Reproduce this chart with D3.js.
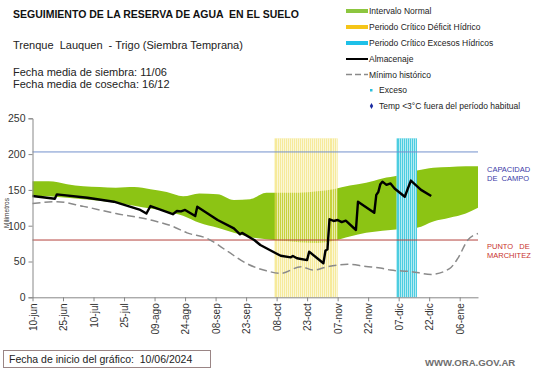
<!DOCTYPE html>
<html>
<head>
  <meta charset="UTF-8">
  <style>
    body { margin: 0; background: #fff; }
    text { font-family: "Liberation Sans", Arial, sans-serif; white-space: pre; }
  </style>
</head>
<body>
<div id="chart_div"></div>
<script src="https://d3js.org/d3.v7.min.js"></script>
<script>

// Datos (dias desde el 10/06/2024)
const tickLabels = ["10-jun","25-jun","10-jul","25-jul","09-ago","24-ago","08-sep","23-sep",
                    "08-oct","23-oct","07-nov","22-nov","07-dic","22-dic","06-ene"];
const tickDays = [0,15,30,45,60,75,90,105,120,135,150,165,180,195,210];

const normalDays = [0,8,17,25,33,41,50,58,66,74,82,91,99,107,115,123,131,140,148,156,164,172,180,189,197,205,213,219];
const normalHigh = [162,162,158,155,154,153,154,151,147,141,145,144,136,137,146,146,146,148,151,156,160,166,170,177,181,182,183,183];
const normalLow  = [142,141,139,137,135,132,128,124,120,114,104,97,90,84,81,79,77,76,79,85,90,93,95,97,106,111,117,125];

const storageDays   = [0,11,12,27,40,53,56,58,69,71,73,75,80,81,91,99,102,103,109,112,118,122,127,128,130,135,136,143,144,145,146,148,150,152,154,159,160,168,169,170,171,172,174,176,178,183,186,191,196];
const storageValues = [141.5,137.7,143.8,139,133.5,122,117,127.5,116,120.5,120,122,113.5,126.5,108,96.3,88,90,80,73,64,58,55.8,57.7,54.5,52,63.7,47.5,65,67,109,106.6,108,105,107,94,133.5,118,143,147,158,161.5,157,159,152,140.5,163,150,141.5];

const minDays   = [0,12,25,41,58,69,76,86,96,105,115,122,132,138,145,155,164,171,176,186,196,205,209,214,219];
const minValues = [131,133.5,127,117,108,99,90,82,64,47.5,37,33.5,42.7,38,42.7,46,43,41,38,36,32,40,54,80,89];

const deficitPeriod = [119, 149];   // Periodo critico deficit hidrico
const excessPeriod  = [179, 188];   // Periodo critico excesos hidricos
const bandTop = 222;
const fieldCapacity = 203;
const wiltingPoint = 80;
const yTicks = [0,50,100,150,200,250];

const width = 541, height = 368;
const margin = {left: 32.5, right: 478, top: 118.3, bottom: 297.3};

const svg = d3.select("#chart_div")
  .append("svg")
  .attr("width", width)
  .attr("height", height);

const start = new Date(2024, 5, 10);
const day = d => d3.timeDay.offset(start, d);

const x = d3.scaleTime()
  .domain([start, day(219)])
  .range([margin.left, margin.right]);
const y = d3.scaleLinear()
  .domain([0, 250])
  .range([margin.bottom, margin.top]);

// Intervalo normal
svg.append("path")
  .datum(normalDays.map((d, i) => ({d: d, hi: normalHigh[i], lo: normalLow[i]})))
  .attr("fill", "#8cc414")
  .attr("d", d3.area()
    .x(p => x(day(p.d)))
    .y0(p => y(p.lo))
    .y1(p => y(p.hi))
    .curve(d3.curveMonotoneX));

// Periodos criticos (barras diarias con lineas blancas entre dias)
function stripes(period, color, op, bg) {
  const g = svg.append("g");
  const x0 = x(day(period[0])), x1 = x(day(period[1] + 1));
  if (bg) {
    g.append("rect").attr("x", x0).attr("y", y(bandTop))
      .attr("width", x1 - x0).attr("height", y(0) - y(bandTop)).attr("fill", "#fff");
  }
  g.append("rect").attr("x", x0).attr("y", y(bandTop))
    .attr("width", x1 - x0).attr("height", y(0) - y(bandTop))
    .attr("fill", color).attr("opacity", op);
  g.selectAll("line")
    .data(d3.range(period[0] + 1, period[1] + 1))
    .enter().append("line")
      .attr("x1", d => Math.round(x(day(d))) + 0.5)
      .attr("x2", d => Math.round(x(day(d))) + 0.5)
      .attr("y1", y(bandTop))
      .attr("y2", y(0))
      .attr("stroke", "#fff")
      .attr("stroke-opacity", 0.75)
      .attr("stroke-width", 0.8);
}
stripes(deficitPeriod, "#f0dc58", 0.6, false);
stripes(excessPeriod, "#42cade", 0.95, true);

// Capacidad de campo y punto de marchitez
svg.append("line")
  .attr("x1", margin.left).attr("x2", margin.right)
  .attr("y1", y(fieldCapacity)).attr("y2", y(fieldCapacity))
  .attr("stroke", "#7290cc").attr("stroke-width", 1);
svg.append("line")
  .attr("x1", margin.left).attr("x2", margin.right)
  .attr("y1", y(wiltingPoint)).attr("y2", y(wiltingPoint))
  .attr("stroke", "#b4423c").attr("stroke-width", 1);

// Minimo historico
svg.append("path")
  .datum(minDays.map((d, i) => [d, minValues[i]]))
  .attr("fill", "none")
  .attr("stroke", "#8a8a8a")
  .attr("stroke-width", 1.5)
  .attr("stroke-dasharray", "8,4")
  .attr("d", d3.line()
    .x(p => x(day(p[0])))
    .y(p => y(p[1]))
    .curve(d3.curveMonotoneX));

// Almacenaje
svg.append("path")
  .datum(storageDays.map((d, i) => [d, storageValues[i]]))
  .attr("fill", "none")
  .attr("stroke", "#000")
  .attr("stroke-width", 2.4)
  .attr("stroke-linejoin", "round")
  .attr("d", d3.line()
    .x(p => x(day(p[0])))
    .y(p => y(p[1])));

// Ejes
const yAxis = svg.append("g")
  .attr("transform", "translate(" + margin.left + ",0)")
  .call(d3.axisLeft(y).tickValues(yTicks).tickSize(4).tickPadding(3));
yAxis.selectAll("text").attr("font-size", "10.5px").attr("fill", "#333");

const xAxis = svg.append("g")
  .attr("transform", "translate(0," + margin.bottom + ")")
  .call(d3.axisBottom(x)
    .tickValues(tickDays.map(day))
    .tickFormat((d, i) => tickLabels[i])
    .tickSize(4)
    .tickSizeOuter(0));
xAxis.selectAll("text")
  .attr("font-size", "10px")
  .attr("fill", "#333")
  .attr("transform", "rotate(-90)")
  .attr("text-anchor", "end")
  .attr("x", -6)
  .attr("y", 0)
  .attr("dy", "0.35em");
svg.selectAll(".domain, .tick line").attr("stroke", "#888");

svg.append("text")
  .attr("transform", "translate(9,213) rotate(-90)")
  .attr("text-anchor", "middle")
  .attr("font-size", "6.5px")
  .attr("fill", "#333")
  .text("Milímetros");

// Etiquetas a la derecha
svg.append("text").attr("x", 487).attr("y", 172).attr("font-size", "7.5px").attr("fill", "#3b3ba8").text("CAPACIDAD");
svg.append("text").attr("x", 487).attr("y", 181).attr("font-size", "7.5px").attr("fill", "#3b3ba8").text("DE  CAMPO");
svg.append("text").attr("x", 487).attr("y", 249).attr("font-size", "7.5px").attr("fill", "#c8322d").text("PUNTO   DE");
svg.append("text").attr("x", 487).attr("y", 258).attr("font-size", "7.5px").attr("fill", "#c8322d").text("MARCHITEZ");

// Titulos
svg.append("text").attr("x", 13).attr("y", 18)
  .attr("font-size", "10.5px").attr("font-weight", "bold").attr("fill", "#111")
  .text("SEGUIMIENTO DE LA RESERVA DE AGUA  EN EL SUELO");
svg.append("text").attr("x", 13).attr("y", 49)
  .attr("font-size", "11px").attr("fill", "#222")
  .text("Trenque  Lauquen  - Trigo (Siembra Temprana)");
svg.append("text").attr("x", 13).attr("y", 76)
  .attr("font-size", "11px").attr("fill", "#222")
  .text("Fecha media de siembra: 11/06");
svg.append("text").attr("x", 13).attr("y", 88)
  .attr("font-size", "11px").attr("fill", "#222")
  .text("Fecha media de cosecha: 16/12");

// Leyenda
const legend = svg.append("g").attr("font-size", "8.5px").attr("fill", "#222");
const barItems = [["Intervalo Normal", "#8cc63f", 11], ["Periodo Crítico Déficit Hídrico", "#f5c518", 27], ["Periodo Crítico Excesos Hídricos", "#1ec0e8", 43]];
barItems.forEach(it => {
  legend.append("rect").attr("x", 346).attr("y", it[2] - 2).attr("width", 22).attr("height", 4).attr("fill", it[1]);
  legend.append("text").attr("x", 369).attr("y", it[2] + 3).text(it[0]);
});
legend.append("line").attr("x1", 346).attr("x2", 368).attr("y1", 59).attr("y2", 59).attr("stroke", "#000").attr("stroke-width", 2);
legend.append("text").attr("x", 369).attr("y", 62).text("Almacenaje");
legend.append("line").attr("x1", 346).attr("x2", 368).attr("y1", 74.5).attr("y2", 74.5).attr("stroke", "#8a8a8a").attr("stroke-width", 1.5).attr("stroke-dasharray", "6,3");
legend.append("text").attr("x", 369).attr("y", 77.5).text("Mínimo histórico");
legend.append("rect").attr("x", 370).attr("y", 89).attr("width", 2.5).attr("height", 2.5).attr("fill", "#2cc0dc");
legend.append("text").attr("x", 379).attr("y", 93).text("Exceso");
legend.append("path").attr("d", d3.symbol().type(d3.symbolDiamond).size(10)()).attr("transform", "translate(371.5,106)").attr("fill", "#1a2aa0");
legend.append("text").attr("x", 379).attr("y", 109).text("Temp <3°C fuera del período habitual");

// Pie
svg.append("rect").attr("x", 3.5).attr("y", 350.5).attr("width", 207).attr("height", 17)
  .attr("fill", "none").attr("stroke", "#9a8585");
svg.append("text").attr("x", 9).attr("y", 362.5)
  .attr("font-family", "Carlito, Lato, sans-serif").attr("font-size", "10.5px").attr("fill", "#222")
  .text("Fecha de inicio del gráfico:  10/06/2024");
svg.append("text").attr("x", 425).attr("y", 366)
  .attr("font-family", "Carlito, Lato, sans-serif").attr("font-size", "9.6px").attr("font-weight", "bold").attr("fill", "#6e6e6e")
  .text("WWW.ORA.GOV.AR");

</script>
</body>
</html>
